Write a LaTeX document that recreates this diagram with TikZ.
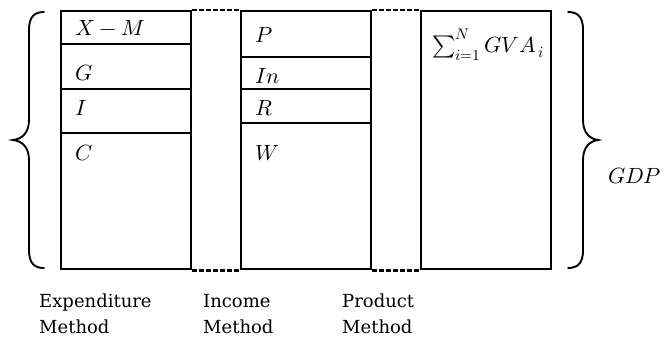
\documentclass[tikz,border=0pt]{standalone}
\usepackage{fontspec}
\usepackage{unicode-math}
\newfontfamily\methfont{DejaVu Serif}
\begin{document}
\begin{tikzpicture}[x=1pt,y=-1pt,
  col/.style={draw,line width=2.4pt,minimum width=130pt,minimum height=258pt,inner sep=0pt,anchor=north west},
  divider/.style={line width=2.2pt},
  link/.style={line width=2.2pt,dash pattern=on 4.5pt off 2.5pt},
  brc/.style={line width=1.9pt,line cap=round},
  lab/.style={anchor=base west,inner sep=0pt,font=\fontsize{22}{26}\selectfont},
  meth/.style={anchor=base west,inner sep=0pt,align=left,font=\methfont\fontsize{18}{26}\selectfont}]
\useasboundingbox (0,0) rectangle (669,338);
\node[col] (e) at (60,10) {};
\node[col] (i) at (240,10) {};
\node[col] (p) at (420,10) {};
% dividers
\draw[divider] (60,44) -- (190,44);
\draw[divider] (60,89) -- (190,89);
\draw[divider] (60,133) -- (190,133);
\draw[divider] (240,57) -- (370,57);
\draw[divider] (240,89) -- (370,89);
\draw[divider] (240,123) -- (370,123);
% dashed links
\draw[link] (e.north east) -- (i.north west);
\draw[link] (i.north east) -- (p.north west);
\draw[link] (e.south east) -- (i.south west);
\draw[link] (i.south east) -- (p.south west);
% labels
\node[lab] (xm) at (75,35) {$X-M$};
\node[lab] (g) at (75,80) {$G$};
\node[lab] (iv) at (75,115) {$I$};
\node[lab] (c) at (75,160) {$C$};
\node[lab] (pp) at (255,42) {$P$};
\node[lab] (in) at (255,83) {$In$};
\node[lab] (r) at (255,115) {$R$};
\node[lab] (w) at (255,160) {$W$};
\node[lab] (gva) at (432,52) {$\sum_{i=1}^{N} GVA_{\,i}$};
\node[lab] (gdp) at (608,183) {$GDP$};
% braces
\draw[brc] (44,12) .. controls (34,12) and (29,17) .. (29,30)
  -- (29,120) .. controls (29,133) and (22,139) .. (13,140)
  .. controls (22,141) and (29,147) .. (29,160)
  -- (29,250) .. controls (29,263) and (34,268) .. (44,268);
\draw[brc] (568,12) .. controls (578,12) and (583,17) .. (583,30)
  -- (583,120) .. controls (583,133) and (590,139) .. (598,140)
  .. controls (590,141) and (583,147) .. (583,160)
  -- (583,250) .. controls (583,263) and (578,268) .. (568,268);
% method labels
\node[meth] (em) at (39,333) {Expenditure\\Method};
\node[meth] (im) at (203,333) {Income\\Method};
\node[meth] (pm) at (342,333) {Product\\Method};
\end{tikzpicture}
\end{document}
